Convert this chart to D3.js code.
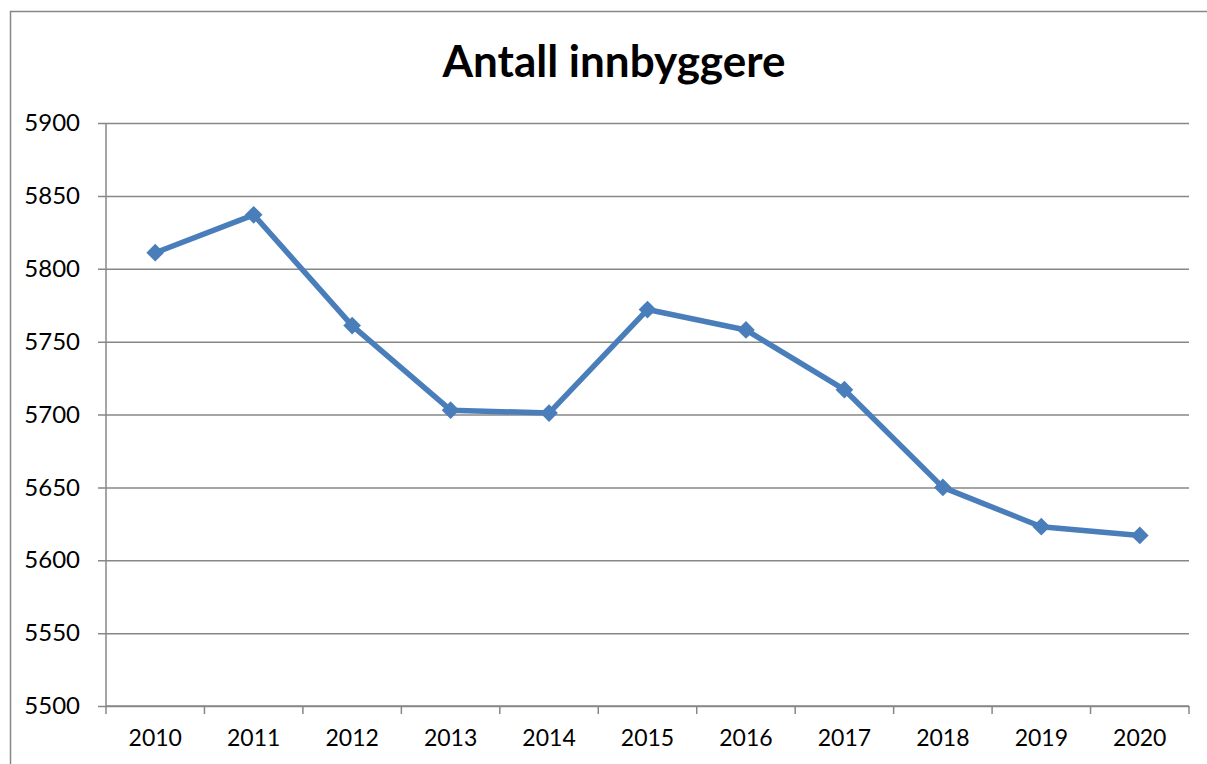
<!DOCTYPE html>
<html>
  <head>
    <title>Antall innbyggere</title>
    <script src="https://d3js.org/d3.v7.min.js"></script>
    <style>
      body {
        margin: 0;
        background-color: white;
      }

      svg text {
        font-family: Lato, "Open Sans", sans-serif;
        fill: black;
      }
    </style>
  </head>
  <body>
    <script>
      // data
      const years = ['2010', '2011', '2012', '2013', '2014', '2015', '2016', '2017', '2018', '2019', '2020'];
      const population = [5811, 5837, 5761, 5703, 5701, 5772, 5758, 5717, 5650, 5623, 5617];
      const yTicks = [5500, 5550, 5600, 5650, 5700, 5750, 5800, 5850, 5900];

      const w = 1207;
      const h = 764;
      const plotLeft = 106;
      const plotRight = 1189;
      const plotTop = 123;
      const plotBottom = 706;
      const grey = '#878787';
      const blue = '#4a7ebb';

      const data = years.map((y, i) => ({year: y, value: population[i]}));

      const xScale = d3.scaleBand()
                       .domain(years)
                       .range([plotLeft, plotRight]);

      const yScale = d3.scaleLinear()
                       .domain([5500, 5900])
                       .range([plotBottom, plotTop]);

      const svg = d3.select('body')
                    .append('svg')
                    .attr('width', w)
                    .attr('height', h);

      // outer chart frame, runs off the right and bottom edge
      svg.append('rect')
         .attr('x', 10.5)
         .attr('y', 11.5)
         .attr('width', 1220)
         .attr('height', 780)
         .attr('fill', 'none')
         .attr('stroke', grey)
         .attr('stroke-width', 1.5);

      svg.append('text')
         .attr('x', 614)
         .attr('y', 77)
         .attr('text-anchor', 'middle')
         .style('font-size', '44px')
         .style('font-weight', 'bold')
         .text('Antall innbyggere');

      // gridlines + y labels
      const yAxis = d3.axisLeft(yScale)
                      .tickValues(yTicks)
                      .tickSize(0)
                      .tickFormat(d3.format('d'));

      const gy = svg.append('g')
                    .attr('id', 'y-axis')
                    .attr('transform', `translate(${plotRight}, 0)`)
                    .call(yAxis);
      gy.select('.domain').remove();
      gy.selectAll('.tick line')
        .attr('x2', -(plotRight - plotLeft) - 8)
        .attr('x1', 0)
        .attr('stroke', grey)
        .attr('stroke-width', 1.5);
      gy.selectAll('.tick text')
        .attr('x', -(plotRight - plotLeft) - 26)
        .attr('text-anchor', 'end')
        .style('font-size', '24px');

      // vertical axis line
      svg.append('line')
         .attr('x1', plotLeft)
         .attr('x2', plotLeft)
         .attr('y1', plotTop)
         .attr('y2', plotBottom)
         .attr('stroke', grey)
         .attr('stroke-width', 1.5);

      // x axis with ticks between categories
      const xAxis = d3.axisBottom(xScale)
                      .tickSize(0)
                      .tickPadding(24);

      const gx = svg.append('g')
                    .attr('id', 'x-axis')
                    .attr('transform', `translate(0, ${plotBottom})`)
                    .call(xAxis);
      gx.select('.domain')
        .attr('d', `M${plotLeft},0H${plotRight}`)
        .attr('stroke', grey)
        .attr('stroke-width', 1.5);
      gx.selectAll('.tick text')
        .style('font-size', '23px');

      gx.selectAll('.sep')
        .data(years.concat(['end']))
        .enter()
        .append('line')
        .attr('class', 'sep')
        .attr('x1', (d, i) => plotLeft + i * xScale.step())
        .attr('x2', (d, i) => plotLeft + i * xScale.step())
        .attr('y1', 0)
        .attr('y2', 8)
        .attr('stroke', grey)
        .attr('stroke-width', 1.5);

      const cx = d => xScale(d.year) + xScale.bandwidth() / 2;

      const line = d3.line()
                     .x(cx)
                     .y(d => yScale(d.value));

      svg.append('path')
         .datum(data)
         .attr('d', line)
         .attr('fill', 'none')
         .attr('stroke', blue)
         .attr('stroke-width', 5.5)
         .attr('stroke-linejoin', 'round');

      svg.selectAll('.marker')
         .data(data)
         .enter()
         .append('path')
         .attr('class', 'marker')
         .attr('d', d3.symbol().type(d3.symbolDiamond2).size(200))
         .attr('transform', d => `translate(${cx(d)}, ${yScale(d.value)})`)
         .attr('fill', blue);
    </script>
  </body>
</html>
